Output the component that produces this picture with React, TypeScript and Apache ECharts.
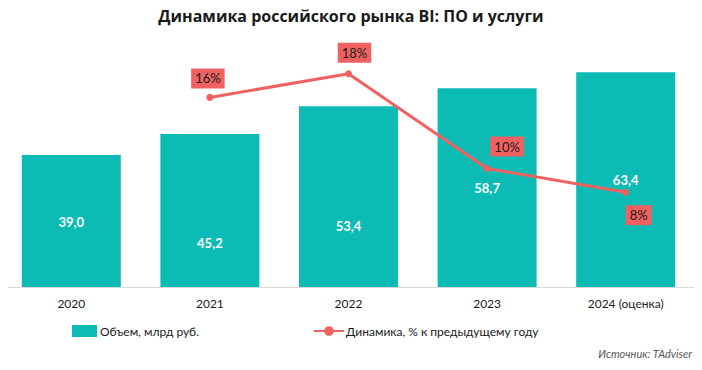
import React, { useEffect, useRef } from "react";
import * as echarts from "echarts";

const categories = ["2020", "2021", "2022", "2023", "2024 (оценка)"];
const volume = [39.0, 45.2, 53.4, 58.7, 63.4];
const growth: (number | null)[] = [null, 16, 18, 10, 8];

const TEAL = "#0DBBB5";
const RED = "#F06262";
const FONT = 'Lato, "Noto Sans", sans-serif';

export default function App() {
  const ref = useRef<HTMLDivElement>(null);
  useEffect(() => {
    if (!ref.current) return;
    const chart = echarts.init(ref.current, null, { renderer: "svg" });
    const barLabelOffsets = [[0, 1], [0, 33], [0, 29], [0, 0], [0, 0]];
    const lineLabelOffsets = [[0, 0], [-2, -19], [6, -21], [20, -22], [13, 23]];
    chart.setOption({
      animation: false,
      textStyle: { fontFamily: FONT },
      title: {
        text: "Динамика российского рынка BI: ПО и услуги",
        left: "center",
        top: 3,
        textStyle: { fontFamily: '"Open Sans", "Noto Sans", sans-serif', fontWeight: "bold", fontSize: 16, color: "#1a1a1a" },
      },
      graphic: [
        {
          type: "text",
          right: 10,
          top: 348,
          style: { text: "Источник: TAdviser", fontFamily: FONT, fontStyle: "italic", fontSize: 11, fill: "#595959" },
        },
      ],
      legend: [
        {
          data: [{ name: "Объем, млрд руб.", icon: "rect" }],
          left: 67,
          top: 320,
          itemWidth: 25,
          itemHeight: 12,
          itemGap: 3,
          textStyle: { fontSize: 12, color: "#1a1a1a", padding: [0, 0, 0, -2] },
        },
        {
          data: ["Динамика, % к предыдущему году"],
          left: 308,
          top: 320,
          itemWidth: 30,
          itemHeight: 12,
          textStyle: { fontSize: 12, color: "#1a1a1a", padding: [0, 0, 0, -3] },
        },
      ],
      grid: { left: 2, right: 7, top: 50, bottom: 83 },
      xAxis: {
        type: "category",
        data: categories,
        axisLine: { lineStyle: { color: "#D9D9D9", width: 1 } },
        axisTick: { show: false },
        axisLabel: { color: "#1a1a1a", fontSize: 12, margin: 10 },
      },
      yAxis: [
        { type: "value", min: 0, max: 70, show: false, splitLine: { show: false } },
        { type: "value", min: 0, max: 20, show: false, splitLine: { show: false } },
      ],
      series: [
        {
          name: "Объем, млрд руб.",
          type: "bar",
          data: volume.map((v, i) => ({
            value: v,
            label: { offset: barLabelOffsets[i] },
          })),
          barWidth: 99,
          itemStyle: { color: TEAL },
          label: {
            show: true,
            position: "inside",
            color: "#ffffff",
            fontWeight: "bold",
            fontSize: 13,
            formatter: (p: any) => p.value.toFixed(1).replace(".", ","),
          },
        },
        {
          name: "Динамика, % к предыдущему году",
          type: "line",
          yAxisIndex: 1,
          data: growth.map((v, i) => ({
            value: v,
            label: { offset: lineLabelOffsets[i] },
          })),
          symbol: "circle",
          symbolSize: 7,
          lineStyle: { color: RED, width: 3 },
          itemStyle: { color: RED },
          label: {
            show: true,
            position: "inside",
            formatter: (p: any) => p.value + "%",
            backgroundColor: RED,
            color: "#1a1a1a",
            fontSize: 13,
            padding: [4, 4, 3, 4],
          },
        },
      ],
    });
    return () => chart.dispose();
  }, []);
  return <div ref={ref} style={{ width: 702, height: 370, margin: -8 }} />;
}
